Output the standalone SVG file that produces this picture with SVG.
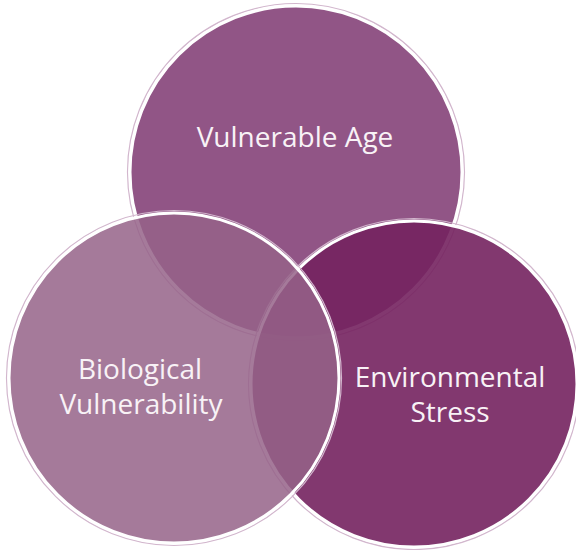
<svg xmlns="http://www.w3.org/2000/svg" width="576" height="550" viewBox="0 0 576 550">
  <style>
    .halo { fill: none; stroke: #D2B6CD; stroke-width: 1.2; }
    .disc { stroke: #FFFFFF; stroke-width: 3; }
    .label { font-family: "Open Sans", "Liberation Sans", sans-serif; font-size: 28px; fill: #F8F2F6; text-anchor: middle; }
  </style>
  <rect width="576" height="550" fill="#FFFFFF"/>
  <g id="vulnerable-age">
    <circle class="halo" cx="296" cy="172" r="168.5"/>
    <circle class="disc" cx="296" cy="172" r="166" fill="#915586"/>
    <text class="label" x="295" y="147" font-size="28.5">Vulnerable Age</text>
  </g>
  <g id="environmental-stress">
    <circle class="halo" cx="414" cy="384" r="165.5"/>
    <circle class="disc" cx="414" cy="384" r="163" fill="#74225F" fill-opacity="0.9"/>
    <text class="label" x="450" y="387">Environmental</text>
    <text class="label" x="450" y="422">Stress</text>
  </g>
  <g id="biological-vulnerability">
    <circle class="halo" cx="174" cy="378" r="167.5"/>
    <circle class="disc" cx="174" cy="378" r="165" fill="#956388" fill-opacity="0.85"/>
    <text class="label" x="140" y="379">Biological</text>
    <text class="label" x="141" y="414">Vulnerability</text>
  </g>
</svg>
